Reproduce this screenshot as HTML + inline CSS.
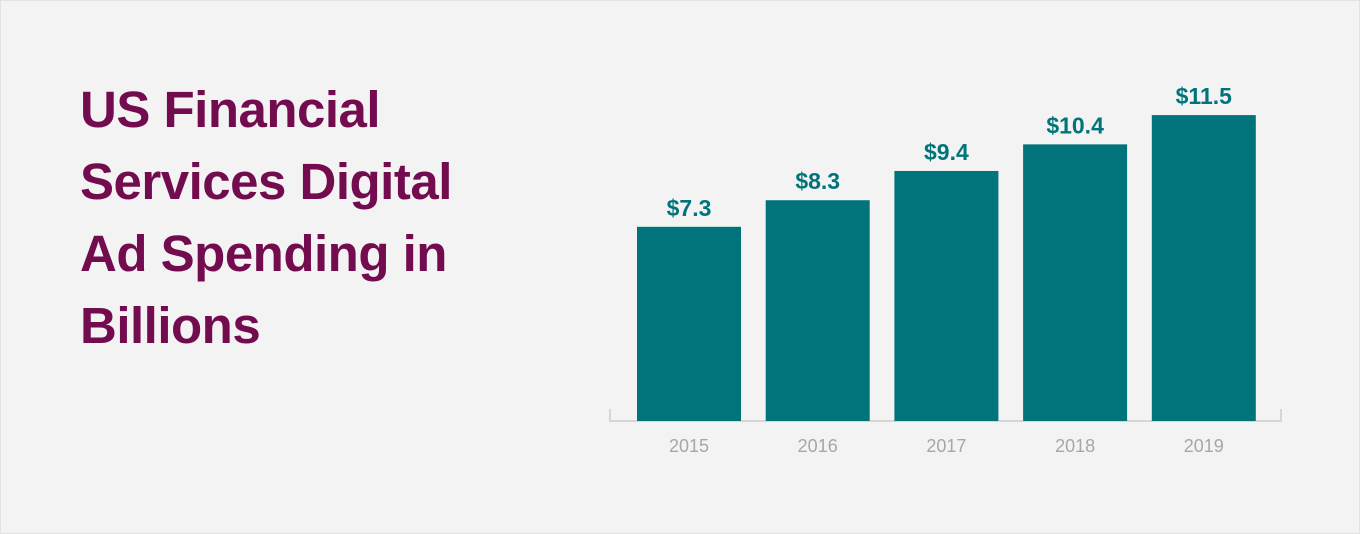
<!DOCTYPE html>
<html><head><meta charset="utf-8"><style>
body{margin:0;width:1360px;height:534px;background:#f3f3f3;overflow:hidden;font-family:"Liberation Sans",sans-serif;}
#frame{position:absolute;left:0;top:0;width:1358px;height:532px;border:1px solid #e2e2e2;}
#title{position:absolute;left:80px;top:74px;margin:0;font-size:51px;line-height:72px;font-weight:bold;color:#730b4f;letter-spacing:-0.5px;}
</style></head><body>
<div id="frame"></div>
<h1 id="title">US Financial<br>Services Digital<br>Ad Spending in<br>Billions</h1>
<svg id="chart" width="1360" height="534" style="position:absolute;left:0;top:0"></svg>
<script>
const categories=["2015","2016","2017","2018","2019"];
const values=[7.3,8.3,9.4,10.4,11.5];
const valueLabels=["$7.3","$8.3","$9.4","$10.4","$11.5"];
const svg=document.getElementById('chart');
const NS="http://www.w3.org/2000/svg";
const baseY=421, pxPerUnit=26.6, x0=637, step=128.7, bw=104;
function y(v){return baseY-v*pxPerUnit;}
function x(i){return x0+i*step;}
function mk(t,a){const e=document.createElementNS(NS,t);for(const k in a)e.setAttribute(k,a[k]);svg.appendChild(e);return e;}
const ax=mk('path',{d:`M610 409V421H1281V409`,fill:'none',stroke:'#d6d6d6','stroke-width':2});


categories.forEach((c,i)=>{
  const r=mk('rect',{x:x(i),y:y(values[i]),width:bw,height:baseY-y(values[i]),fill:'#00747a'});
  
  
  const t=mk('text',{x:x(i)+bw/2,y:y(values[i])-11,'text-anchor':'middle','font-size':23,'font-weight':'bold',fill:'#00747a'});
  t.textContent=valueLabels[i];
  
  
  const l=mk('text',{x:x(i)+bw/2,y:452,'text-anchor':'middle','font-size':18,fill:'#a2a8ab'});
  l.textContent=c;
  
  
});
</script>
</body></html>
